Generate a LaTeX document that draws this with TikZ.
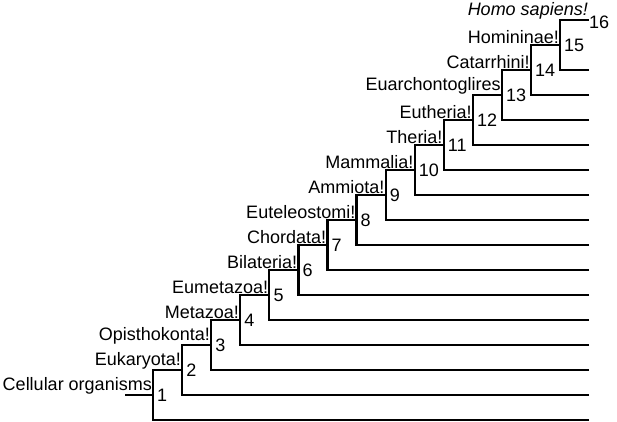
\documentclass[tikz,border=0pt]{standalone}
\usepackage{fontspec}
\setmainfont{Liberation Sans}
\usetikzlibrary{positioning}
\tikzstyle{branch} = [line width=2.2pt]
\tikzstyle{taxon} = [inner sep=1pt, font=\fontsize{18}{20}\selectfont]
\tikzstyle{rank} = [inner sep=4pt, font=\fontsize{18}{20}\selectfont]

\begin{document}
\begin{tikzpicture}[x=1pt, y=-1pt]
            \useasboundingbox (0,0) rectangle (617,421);
            % inner nodes (at the middle of each bracket)
            \coordinate (root) at (125,395);
            \coordinate (n1) at (153,395);
            \coordinate (n2) at (182.1,370);
            \coordinate (n3) at (211.1,345);
            \coordinate (n4) at (240.2,320);
            \coordinate (n5) at (269.3,295);
            \coordinate (n6) at (298.4,270);
            \coordinate (n7) at (327.4,245);
            \coordinate (n8) at (356.5,220);
            \coordinate (n9) at (385.6,195);
            \coordinate (n10) at (414.6,170);
            \coordinate (n11) at (443.7,145);
            \coordinate (n12) at (472.8,120);
            \coordinate (n13) at (501.8,95);
            \coordinate (n14) at (530.9,70);
            \coordinate (n15) at (560,45);
            \coordinate (n16) at (589,20);
            % leaf ends
            \coordinate (l1) at (589,420);
            \coordinate (l2) at (589,395);
            \coordinate (l3) at (589,370);
            \coordinate (l4) at (589,345);
            \coordinate (l5) at (589,320);
            \coordinate (l6) at (589,295);
            \coordinate (l7) at (589,270);
            \coordinate (l8) at (589,245);
            \coordinate (l9) at (589,220);
            \coordinate (l10) at (589,195);
            \coordinate (l11) at (589,170);
            \coordinate (l12) at (589,145);
            \coordinate (l13) at (589,120);
            \coordinate (l14) at (589,95);
            \coordinate (l15) at (589,70);

            \draw [branch] (root) -- (n1);
            \draw [branch] (l1) -| (n1) |- (n2);
            \draw [branch] (l2) -| (n2) |- (n3);
            \draw [branch] (l3) -| (n3) |- (n4);
            \draw [branch] (l4) -| (n4) |- (n5);
            \draw [branch] (l5) -| (n5) |- (n6);
            \draw [branch] (l6) -| (n6) |- (n7);
            \draw [branch] (l7) -| (n7) |- (n8);
            \draw [branch] (l8) -| (n8) |- (n9);
            \draw [branch] (l9) -| (n9) |- (n10);
            \draw [branch] (l10) -| (n10) |- (n11);
            \draw [branch] (l11) -| (n11) |- (n12);
            \draw [branch] (l12) -| (n12) |- (n13);
            \draw [branch] (l13) -| (n13) |- (n14);
            \draw [branch] (l14) -| (n14) |- (n15);
            \draw [branch] (l15) -| (n15) |- (n16);

            % taxon names
            \node (lab1) [taxon, above left=0pt of n1] {Cellular organisms};
            \node (lab2) [taxon, above left=0pt of n2] {Eukaryota!};
            \node (lab3) [taxon, above left=0pt of n3] {Opisthokonta!};
            \node (lab4) [taxon, above left=0pt of n4] {Metazoa!};
            \node (lab5) [taxon, above left=0pt of n5] {Eumetazoa!};
            \node (lab6) [taxon, above left=0pt of n6] {Bilateria!};
            \node (lab7) [taxon, above left=0pt of n7] {Chordata!};
            \node (lab8) [taxon, above left=0pt of n8] {Euteleostomi!};
            \node (lab9) [taxon, above left=0pt of n9] {Ammiota!};
            \node (lab10) [taxon, above left=0pt of n10] {Mammalia!};
            \node (lab11) [taxon, above left=0pt of n11] {Theria!};
            \node (lab12) [taxon, above left=0pt of n12] {Eutheria!};
            \node (lab13) [taxon, above left=0pt of n13] {Euarchontoglires};
            \node (lab14) [taxon, above left=0pt of n14] {Catarrhini!};
            \node (lab15) [taxon, above left=0pt of n15] {Homininae!};
            \node (lab16) [taxon, above left=0pt of n16, font=\fontsize{18}{20}\selectfont\itshape] {Homo sapiens!};

            % node numbers
            \node (num1) [rank, right=0pt of n1] {1};
            \node (num2) [rank, right=0pt of n2] {2};
            \node (num3) [rank, right=0pt of n3] {3};
            \node (num4) [rank, right=0pt of n4] {4};
            \node (num5) [rank, right=0pt of n5] {5};
            \node (num6) [rank, right=0pt of n6] {6};
            \node (num7) [rank, right=0pt of n7] {7};
            \node (num8) [rank, right=0pt of n8] {8};
            \node (num9) [rank, right=0pt of n9] {9};
            \node (num10) [rank, right=0pt of n10] {10};
            \node (num11) [rank, right=0pt of n11] {11};
            \node (num12) [rank, right=0pt of n12] {12};
            \node (num13) [rank, right=0pt of n13] {13};
            \node (num14) [rank, right=0pt of n14] {14};
            \node (num15) [rank, right=0pt of n15] {15};
            \node (num16) [rank, right=0pt of n16, inner sep=0pt, yshift=-2pt] {16};
        \end{tikzpicture}
\end{document}
